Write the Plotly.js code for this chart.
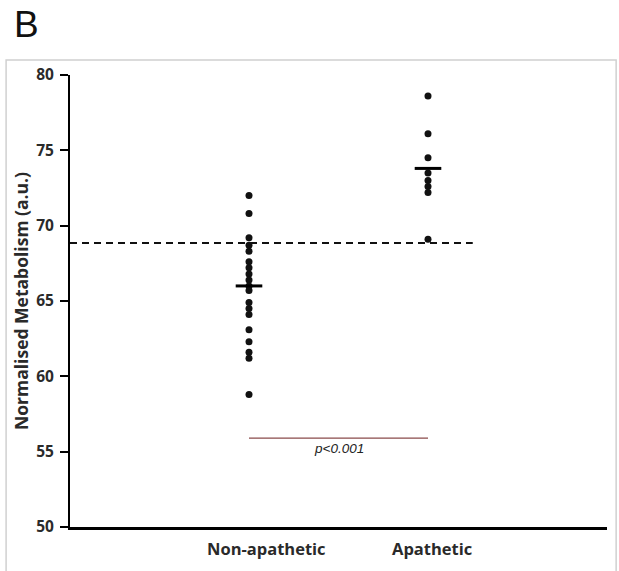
<!DOCTYPE html>
<html>
<head>
<meta charset="utf-8">
<script src="https://cdn.plot.ly/plotly-3.0.1.min.js"></script>
<style>
  html, body { margin: 0; padding: 0; background: #fff; }
  #chart { width: 619px; height: 571px; }
</style>
</head>
<body>
<div id="chart"></div>
<script>
// ---- Data ----
const categories = ["Non-apathetic", "Apathetic"];
const categoryPos = [1, 2];
const nonApathetic = [72.0, 70.8, 69.2, 68.7, 68.3, 67.6, 67.2, 66.8, 66.4, 66.0, 65.7,
                      64.9, 64.5, 64.1, 63.1, 62.3, 61.6, 61.2, 58.8];
const apathetic = [78.6, 76.1, 74.5, 73.5, 73.0, 72.6, 72.2, 69.1];
const groupMeans = [66.0, 73.8];
const cutoff = 68.85;
const pText = "p<0.001";
const pLevel = 55.9;
const panelLabel = "B";
const yTitle = "Normalised Metabolism (a.u.)";
const yTicks = [50, 55, 60, 65, 70, 75, 80];

const font = "Open Sans, Liberation Sans, Arial, sans-serif";

const traces = [
  {
    x: nonApathetic.map(() => categoryPos[0]),
    y: nonApathetic,
    type: "scatter", mode: "markers",
    marker: { color: "#111", size: 7 },
    hoverinfo: "y", showlegend: false
  },
  {
    x: apathetic.map(() => categoryPos[1]),
    y: apathetic,
    type: "scatter", mode: "markers",
    marker: { color: "#111", size: 7 },
    hoverinfo: "y", showlegend: false
  },
  {
    x: categoryPos,
    y: groupMeans,
    type: "scatter", mode: "markers",
    marker: { symbol: "line-ew", size: 19, line: { color: "#000", width: 3 } },
    hoverinfo: "y", showlegend: false
  },
  {
    x: [0, 2.25],
    y: [cutoff, cutoff],
    type: "scatter", mode: "lines",
    line: { color: "#111", width: 2, dash: "7px,5px" },
    hoverinfo: "skip", showlegend: false
  },
  {
    x: categoryPos,
    y: [pLevel, pLevel],
    type: "scatter", mode: "lines",
    line: { color: "#8a4a4a", width: 1.2 },
    hoverinfo: "skip", showlegend: false
  }
];

const layout = {
  width: 619, height: 571,
  margin: { l: 70, r: 12, t: 75, b: 44 },
  paper_bgcolor: "#fff", plot_bgcolor: "#fff",
  showlegend: false,
  xaxis: {
    range: [0, 3], showgrid: false, zeroline: false,
    showticklabels: false, ticks: "",
    showline: true, linecolor: "#000", linewidth: 2.5
  },
  yaxis: {
    range: [50, 80], tickvals: yTicks, ticktext: yTicks.map(String),
    showgrid: false, zeroline: false,
    showline: true, linecolor: "#000", linewidth: 2,
    ticks: "outside", ticklen: 8, tickwidth: 2, tickcolor: "#000",
    ticklabelstandoff: 3,
    tickfont: { family: font, size: 15.5, color: "#2a2a2a", weight: "bold" },
    title: { text: yTitle, font: { family: font, size: 17.5, color: "#2a2a2a", weight: "bold" }, standoff: 3 }
  },
  shapes: [
    { type: "rect", xref: "paper", yref: "paper",
      x0: -0.119, x1: 1.017, y0: -0.12, y1: 1.033,
      line: { color: "#d0d0d0", width: 1.5 }, fillcolor: "rgba(0,0,0,0)", layer: "below" }
  ],
  annotations: [
    { text: panelLabel, xref: "paper", yref: "paper", x: -0.108, y: 1.112,
      xanchor: "left", yanchor: "middle", showarrow: false,
      font: { family: "Liberation Sans, Arial, sans-serif", size: 37, color: "#111" } },
    { text: pText, xref: "x", yref: "y", x: 1.5, y: pLevel,
      xanchor: "center", yanchor: "top", yshift: -1, showarrow: false,
      font: { family: "Liberation Sans, Arial, sans-serif", size: 13.5, color: "#222", style: "italic" } },
    { text: categories[0], xref: "x", yref: "paper", x: 1.095, y: 0, yshift: -21,
      xanchor: "center", yanchor: "middle", showarrow: false,
      font: { family: font, size: 16.5, color: "#2a2a2a", weight: "bold" } },
    { text: categories[1], xref: "x", yref: "paper", x: 2.02, y: 0, yshift: -21,
      xanchor: "center", yanchor: "middle", showarrow: false,
      font: { family: font, size: 16.5, color: "#2a2a2a", weight: "bold" } }
  ]
};

Plotly.newPlot("chart", traces, layout, { displayModeBar: false, staticPlot: true });
</script>
</body>
</html>
